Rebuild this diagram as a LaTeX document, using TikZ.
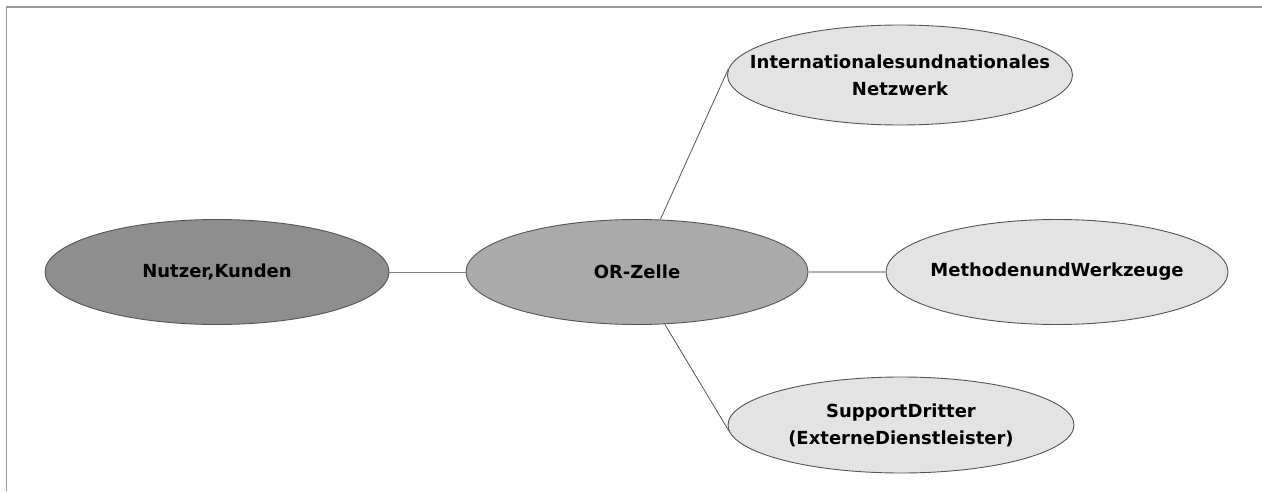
\documentclass[tikz,border=0pt]{standalone}
\usepackage{fontspec}
\setmainfont{DejaVu Sans}
\usetikzlibrary{shapes.geometric}
\definecolor{frame}{HTML}{999999}
\definecolor{dark}{HTML}{8E8E8E}
\definecolor{mid}{HTML}{AAAAAA}
\definecolor{light}{HTML}{E3E3E3}
\definecolor{edge}{HTML}{555555}
\tikzset{
  bubble/.style={ellipse, draw=edge, line width=0.9pt, inner sep=0pt},
  caption/.style={inner sep=0pt, align=center,
    font=\fontsize{18}{27}\selectfont\bfseries, text=black},
  link/.style={draw=edge, line width=0.8pt},
  softlink/.style={draw=gray!60, line width=1.4pt},
}
\begin{document}
\begin{tikzpicture}[x=1pt,y=1pt]
\useasboundingbox (0,0) rectangle (1262,491);
\fill[white] (0,0) rectangle (1262,491);
\draw[frame, line width=1.5pt] (6.5,0) -- (6.5,484) -- (1262,484);
\node[bubble, fill=dark, minimum width=344pt, minimum height=105pt] (N) at (217,219) {};
\node[bubble, fill=mid, minimum width=342pt, minimum height=105pt] (O) at (637,219) {};
\node[bubble, fill=light, minimum width=342pt, minimum height=105pt] (M) at (1057,219) {};
\node[bubble, fill=light, minimum width=345pt, minimum height=100pt] (I) at (900,416) {};
\node[bubble, fill=light, minimum width=346pt, minimum height=96pt] (S) at (901,66) {};
\node[caption] (Nt) at (N.center) {Nutzer,Kunden};
\node[caption] (Ot) at (O.center) {OR-Zelle};
\node[caption] (Mt) at (M.center) {MethodenundWerkzeuge};
\node[caption] (It) at (I.center) {Internationalesundnationales\\Netzwerk};
\node[caption] (St) at (S.center) {SupportDritter\\(ExterneDienstleister)};
\draw[link, draw=gray] (N.east) -- (O.west);
\draw[softlink] (O.east) -- (M.west);
\draw[link] (O.66) -- (I.178);
\draw[link] (O.-62) -- (S.182);
\end{tikzpicture}
\end{document}
